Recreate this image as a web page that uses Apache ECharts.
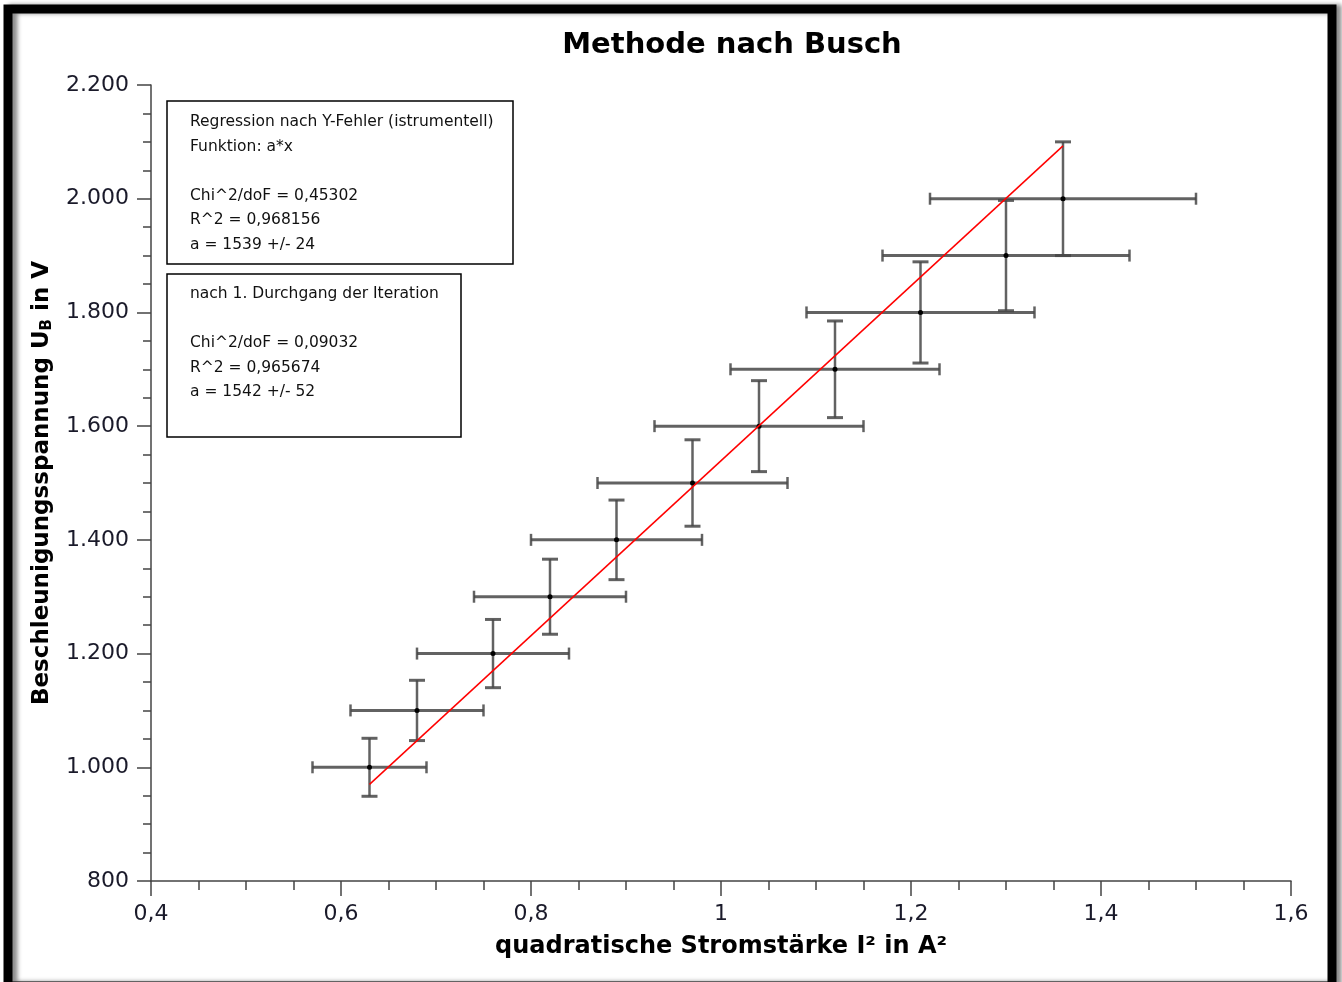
<!DOCTYPE html>
<html>
<head>
<meta charset="utf-8">
<title>Methode nach Busch</title>
<script src="https://cdn.jsdelivr.net/npm/echarts@6/dist/echarts.min.js"></script>
<style>
  html, body { margin: 0; padding: 0; background: #fff; }
  #chart { width: 1342px; height: 982px; }
</style>
</head>
<body>
<div id="chart"></div>
<script>
// Messwerte: I^2 in A^2, U_B in V, mit Fehlern
var xVals = [0.63, 0.68, 0.76, 0.82, 0.89, 0.97, 1.04, 1.12, 1.21, 1.30, 1.36];
var yVals = [1000, 1100, 1200, 1300, 1400, 1500, 1600, 1700, 1800, 1900, 2000];
var xErrs = [0.06, 0.07, 0.08, 0.08, 0.09, 0.10, 0.11, 0.11, 0.12, 0.13, 0.14];
var yErrs = [51, 53, 60, 66, 70, 76, 80, 85, 89, 97, 100];

// Regressionsgerade a*x (Endpunkte aus dem Bild)
var fitLine = [[0.63, 970], [1.36, 2093]];

var box1Lines = [
  'Regression nach Y-Fehler (istrumentell)',
  'Funktion: a*x',
  '',
  'Chi^2/doF = 0,45302',
  'R^2 = 0,968156',
  'a = 1539 +/- 24'
];
var box2Lines = [
  'nach 1. Durchgang der Iteration',
  '',
  'Chi^2/doF = 0,09032',
  'R^2 = 0,965674',
  'a = 1542 +/- 52'
];

var points = xVals.map(function (x, i) {
  return [x, yVals[i], xErrs[i], yErrs[i]];
});

var chart = echarts.init(document.getElementById('chart'));

function fmtX(v) {
  var s = (Math.round(v * 10) / 10).toString();
  return s.replace('.', ',');
}
function fmtY(v) {
  var s = Math.round(v).toString();
  if (s.length > 3) s = s.slice(0, s.length - 3) + '.' + s.slice(s.length - 3);
  return s;
}

var errColor = 'rgba(70,70,70,0.85)';

chart.setOption({
  animation: false,
  textStyle: { fontFamily: 'DejaVu Sans' },
  title: {
    text: 'Methode nach Busch',
    left: 727,
    top: 26,
    textAlign: 'center',
    textStyle: { fontSize: 29, fontWeight: 'bold', color: '#000', fontFamily: 'DejaVu Sans' }
  },
  grid: { left: 151, right: 51, top: 85, bottom: 101 },
  xAxis: {
    type: 'value',
    min: 0.4,
    max: 1.6,
    interval: 0.2,
    name: 'quadratische Stromstärke I² in A²',
    nameLocation: 'middle',
    nameGap: 54,
    nameTextStyle: { fontSize: 24, fontWeight: 'bold', color: '#000', fontFamily: 'DejaVu Sans' },
    axisLine: { lineStyle: { color: '#444', width: 1.5 } },
    axisTick: { inside: false, length: 15, lineStyle: { color: '#444', width: 1.5 } },
    minorTick: { show: true, splitNumber: 4, length: 9, lineStyle: { color: '#444', width: 1.5 } },
    splitLine: { show: false },
    axisLabel: { margin: 22, fontSize: 22, color: '#1a1a2a', formatter: fmtX }
  },
  yAxis: {
    type: 'value',
    min: 800,
    max: 2200,
    interval: 200,
    name: '{n|Beschleunigungsspannung U}{s|B}{n| in V}',
    nameLocation: 'middle',
    nameRotate: 90,
    nameGap: 96,
    nameTextStyle: {
      rich: {
        n: { fontSize: 23, fontWeight: 'bold', color: '#000', fontFamily: 'DejaVu Sans' },
        s: { fontSize: 15, fontWeight: 'bold', color: '#000', fontFamily: 'DejaVu Sans', padding: [10, 0, 0, 0] }
      }
    },
    axisLine: { show: true, lineStyle: { color: '#444', width: 1.5 } },
    axisTick: { show: true, inside: false, length: 14, lineStyle: { color: '#444', width: 1.5 } },
    minorTick: { show: true, splitNumber: 4, length: 8, lineStyle: { color: '#444', width: 1.5 } },
    splitLine: { show: false },
    axisLabel: { margin: 22, fontSize: 22, color: '#1a1a2a', formatter: fmtY }
  },
  series: [
    {
      type: 'custom',
      name: 'Fehlerbalken',
      data: points,
      z: 2,
      renderItem: function (params, api) {
        var x = api.value(0), y = api.value(1), dx = api.value(2), dy = api.value(3);
        var c = api.coord([x, y]);
        var l = api.coord([x - dx, y]);
        var r = api.coord([x + dx, y]);
        var t = api.coord([x, y + dy]);
        var b = api.coord([x, y - dy]);
        var hs = { stroke: errColor, lineWidth: 3 };
        var vs = { stroke: errColor, lineWidth: 2.5 };
        var capV = 6, capH = 8;
        return {
          type: 'group',
          children: [
            { type: 'line', shape: { x1: l[0], y1: c[1], x2: r[0], y2: c[1] }, style: hs },
            { type: 'line', shape: { x1: l[0], y1: c[1] - capV, x2: l[0], y2: c[1] + capV }, style: vs },
            { type: 'line', shape: { x1: r[0], y1: c[1] - capV, x2: r[0], y2: c[1] + capV }, style: vs },
            { type: 'line', shape: { x1: c[0], y1: t[1], x2: c[0], y2: b[1] }, style: vs },
            { type: 'line', shape: { x1: c[0] - capH, y1: t[1], x2: c[0] + capH, y2: t[1] }, style: hs },
            { type: 'line', shape: { x1: c[0] - capH, y1: b[1], x2: c[0] + capH, y2: b[1] }, style: hs },
            { type: 'circle', shape: { cx: c[0], cy: c[1], r: 2.5 }, style: { fill: '#000' } }
          ]
        };
      }
    },
    {
      type: 'line',
      name: 'a*x',
      data: fitLine,
      symbol: 'none',
      z: 3,
      lineStyle: { color: '#ff0000', width: 1.5 }
    }
  ],
  graphic: [
    {
      type: 'rect',
      shape: { x: 8, y: 9, width: 1324, height: 977 },
      style: { fill: 'none', stroke: '#000', lineWidth: 9, shadowBlur: 4, shadowOffsetX: 5, shadowColor: 'rgba(0,0,0,0.45)' },
      z: 10
    },
    {
      type: 'rect',
      shape: { x: 167, y: 101, width: 346, height: 163 },
      style: { fill: '#fff', stroke: '#000', lineWidth: 1.5 },
      z: 5
    },
    {
      type: 'text',
      left: 190,
      top: 110,
      z: 6,
      style: { text: box1Lines.join('\n'), fontSize: 15.5, lineHeight: 24.5, fill: '#111', fontFamily: 'DejaVu Sans' }
    },
    {
      type: 'rect',
      shape: { x: 167, y: 274, width: 294, height: 163 },
      style: { fill: '#fff', stroke: '#000', lineWidth: 1.5 },
      z: 5
    },
    {
      type: 'text',
      left: 190,
      top: 282,
      z: 6,
      style: { text: box2Lines.join('\n'), fontSize: 15.5, lineHeight: 24.5, fill: '#111', fontFamily: 'DejaVu Sans' }
    }
  ]
});
</script>
</body>
</html>
